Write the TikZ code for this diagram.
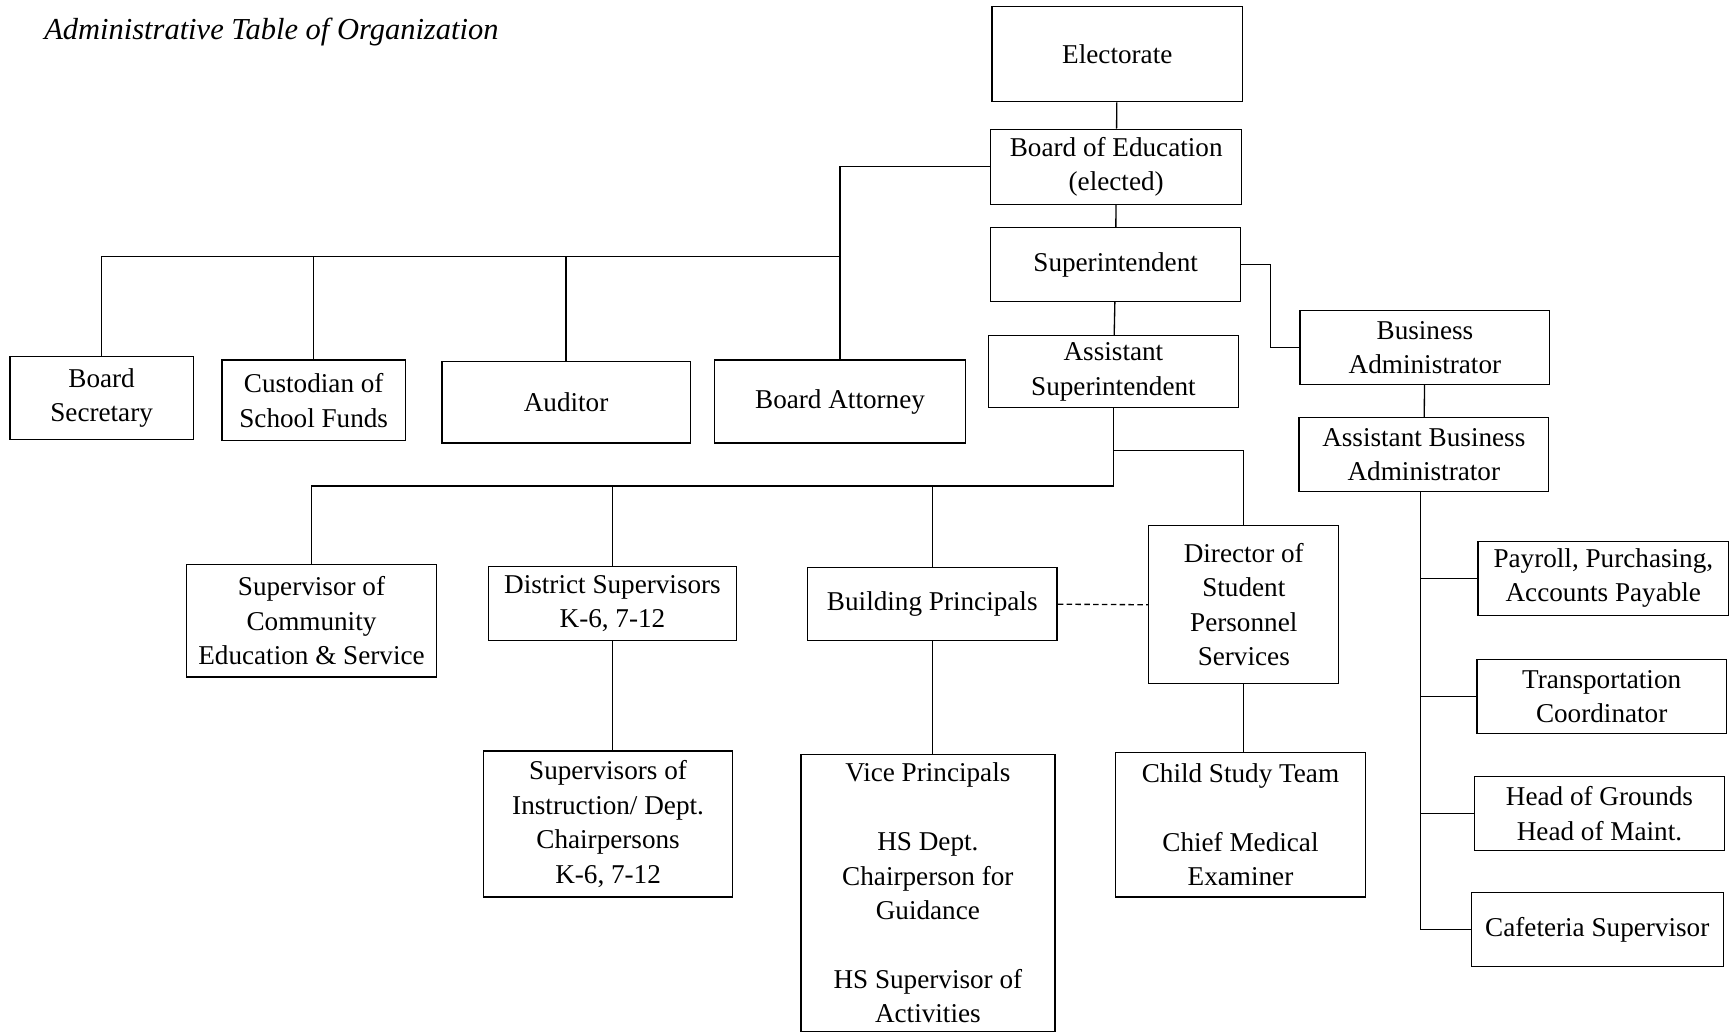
\documentclass[tikz,border=0pt]{standalone}
\usepackage{fontspec}
\setmainfont{Liberation Serif}
\begin{document}
\begin{tikzpicture}[x=0.5pt,y=-0.5pt,
  bx/.style 2 args={draw, line width=0.6pt, inner sep=0pt,
    minimum width=#1*0.5pt, minimum height=#2*0.5pt,
    align=center, font=\fontsize{12.3}{15.6}\selectfont},
  ln/.style={line width=0.6pt},
  dln/.style={line width=0.6pt, dash pattern=on 2.5pt off 1.5pt}]
\useasboundingbox (0,0) rectangle (1568,936);

\node[anchor=base west, font=\fontsize{13.8}{16}\selectfont\itshape] (title) at (33,36) {Administrative Table of Organization};

% top chain
\node[bx={227}{86}] (elec) at (1011.5,49) {Electorate};
\node[bx={227}{68}] (boe) at (1010.5,151) {Board of Education\\(elected)};
\node[bx={226}{67}] (sup) at (1010,239.5) {Superintendent};
\node[bx={226}{65}] (asup) at (1008,336.5) {Assistant\\Superintendent};
\node[bx={226}{67}] (bad) at (1290,314.5) {Business\\Administrator};
\node[bx={226}{67}] (aba) at (1289,411.5) {Assistant Business\\Administrator};

% board staff
\node[bx={166}{75}] (bsec) at (92,360.5) {Board\\Secretary};
\node[bx={166}{73}] (cust) at (284,362.5) {Custodian of\\School Funds};
\node[bx={225}{74}] (aud) at (512.5,364) {Auditor};
\node[bx={227}{75}] (batt) at (760.5,363.5) {Board Attorney};

% second level under assistant superintendent
\node[bx={226}{102}] (sce) at (282,562) {Supervisor of\\Community\\Education \& Service};
\node[bx={225}{67}] (dsup) at (554.5,546.5) {District Supervisors\\K-6, 7-12};
\node[bx={226}{66}] (bp) at (844,547) {Building Principals};
\node[bx={172}{143}] (dir) at (1126,547.5) {Director of\\Student\\Personnel\\Services};

\node[bx={225}{132}] (soi) at (550.5,746) {Supervisors of\\Instruction/ Dept.\\Chairpersons\\K-6, 7-12};
\node[bx={230}{251}] (vp) at (840,808.5) {Vice Principals\\[15.6pt]HS Dept.\\Chairperson for\\Guidance\\[15.6pt]HS Supervisor of\\Activities};
\node[bx={226}{131}] (cst) at (1123,746.5) {Child Study Team\\[15.6pt]Chief Medical\\Examiner};

% business staff
\node[bx={227}{67}] (pay) at (1451.5,523.5) {Payroll, Purchasing,\\Accounts Payable};
\node[bx={226}{67}] (trn) at (1450,630.5) {Transportation\\Coordinator};
\node[bx={226}{67}] (hog) at (1448,736.5) {Head of Grounds\\Head of Maint.};
\node[bx={228}{67}] (caf) at (1446,841.5) {Cafeteria Supervisor};

% helper coordinates
\coordinate (h1) at (0,232);
\coordinate (j1) at (0,440);
\coordinate (j2) at (0,408);
\coordinate (j3) at (1150,277);
\coordinate (sp) at (1286,0);

% connectors
\draw[ln] (elec) -- (boe);
\draw[ln] (boe) -- (sup);
\draw[ln] (sup) -- (asup);
\draw[ln] (boe.west) -| (batt.north);
\draw[ln] (bsec.north) |- (batt.north |- h1);
\draw[ln] (cust.north) -- (cust.north |- h1);
\draw[ln] (aud.north) -- (aud.north |- h1);

\draw[ln] (sup.east) -| (j3) |- (bad.west);
\draw[ln] (bad) -- (aba);
\draw[ln] (aba.south -| sp) -- (caf.west -| sp) -- (caf.west);
\draw[ln] (pay.west -| sp) -- (pay.west);
\draw[ln] (trn.west -| sp) -- (trn.west);
\draw[ln] (hog.west -| sp) -- (hog.west);

\draw[ln] (asup.south) -- (asup.south |- j1) -| (sce.north);
\draw[ln] (dsup.north) -- (dsup.north |- j1);
\draw[ln] (bp.north) -- (bp.north |- j1);
\draw[ln] (asup.south |- j2) -| (dir.north);
\draw[dln] (bp.east) -- (dir.west);

\draw[ln] (dsup.south) -- (dsup.south |- soi.north);
\draw[ln] (bp.south) -- (bp.south |- vp.north);
\draw[ln] (dir.south) -- (dir.south |- cst.north);
\end{tikzpicture}
\end{document}
